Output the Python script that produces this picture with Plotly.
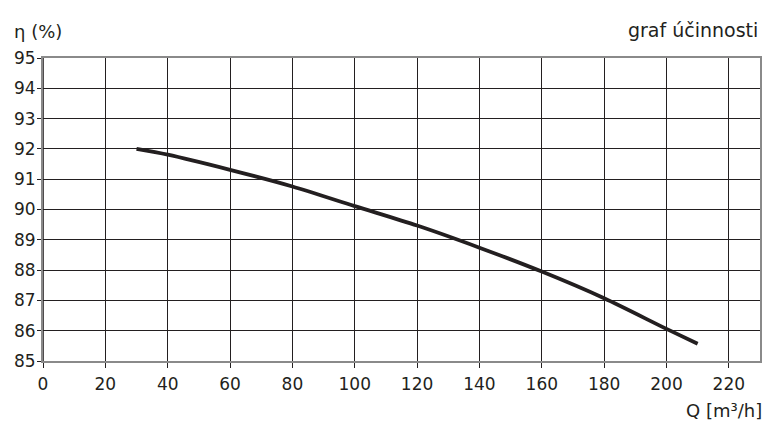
import plotly.graph_objects as go

# Data
q_values = [30, 40, 60, 80, 100, 120, 140, 160, 180, 200, 210]
eta_values = [92.0, 91.81, 91.31, 90.76, 90.11, 89.47, 88.74, 87.95, 87.07, 86.06, 85.57]

x_ticks = list(range(0, 221, 20))
y_ticks = list(range(85, 96, 1))

ink = "#231f20"
font_family = "DejaVu Sans, Liberation Sans, Arial, sans-serif"

fig = go.Figure()
fig.add_trace(go.Scatter(
    x=q_values, y=eta_values, mode="lines",
    line=dict(color=ink, width=3.8, shape="spline", smoothing=0.8),
    showlegend=False, hoverinfo="skip",
))

# page has an 8px body margin, so the figure is 766x425 and offsets are reduced by 8
fig.update_layout(
    width=766, height=425,
    margin=dict(l=35, r=14, t=50, b=72),
    paper_bgcolor="white", plot_bgcolor="white",
    font=dict(family=font_family, size=17, color=ink),
    xaxis=dict(
        range=[0, 230], tickvals=x_ticks, ticktext=[str(v) for v in x_ticks],
        showgrid=True, gridcolor=ink, gridwidth=1.2,
        showline=True, linecolor="#8a8a8a", linewidth=2, mirror=True,
        ticks="outside", ticklen=5, tickcolor=ink, tickwidth=1.2,
        zeroline=False, fixedrange=True, automargin=False,
        tickfont=dict(size=17, color=ink), ticklabelstandoff=2,
    ),
    yaxis=dict(
        range=[85, 95], tickvals=y_ticks, ticktext=[str(v) for v in y_ticks],
        showgrid=True, gridcolor=ink, gridwidth=1.2,
        showline=True, linecolor="#8a8a8a", linewidth=2, mirror=True,
        ticks="outside", ticklen=4, tickcolor=ink, tickwidth=1.2,
        zeroline=False, fixedrange=True, automargin=False,
        tickfont=dict(size=17, color=ink), ticklabelstandoff=-2,
    ),
    shapes=[dict(type="line", xref="x", yref="paper", x0=0, x1=0, y0=0, y1=1,
                 line=dict(color=ink, width=1.6), layer="above")],
    annotations=[
        dict(text="η (%)", xref="paper", yref="paper", x=-0.0437, y=1.087,
             xanchor="left", yanchor="middle", showarrow=False,
             font=dict(size=18, color=ink)),
        dict(text="graf účinnosti", xref="paper", yref="paper", x=1.0005, y=1.094,
             xanchor="right", yanchor="middle", showarrow=False,
             font=dict(size=19, color=ink)),
        dict(text="Q [m³/h]", xref="paper", yref="paper", x=1.005, y=-0.165,
             xanchor="right", yanchor="middle", showarrow=False,
             font=dict(size=18, color=ink)),
    ],
)

fig.write_html("out.html")
